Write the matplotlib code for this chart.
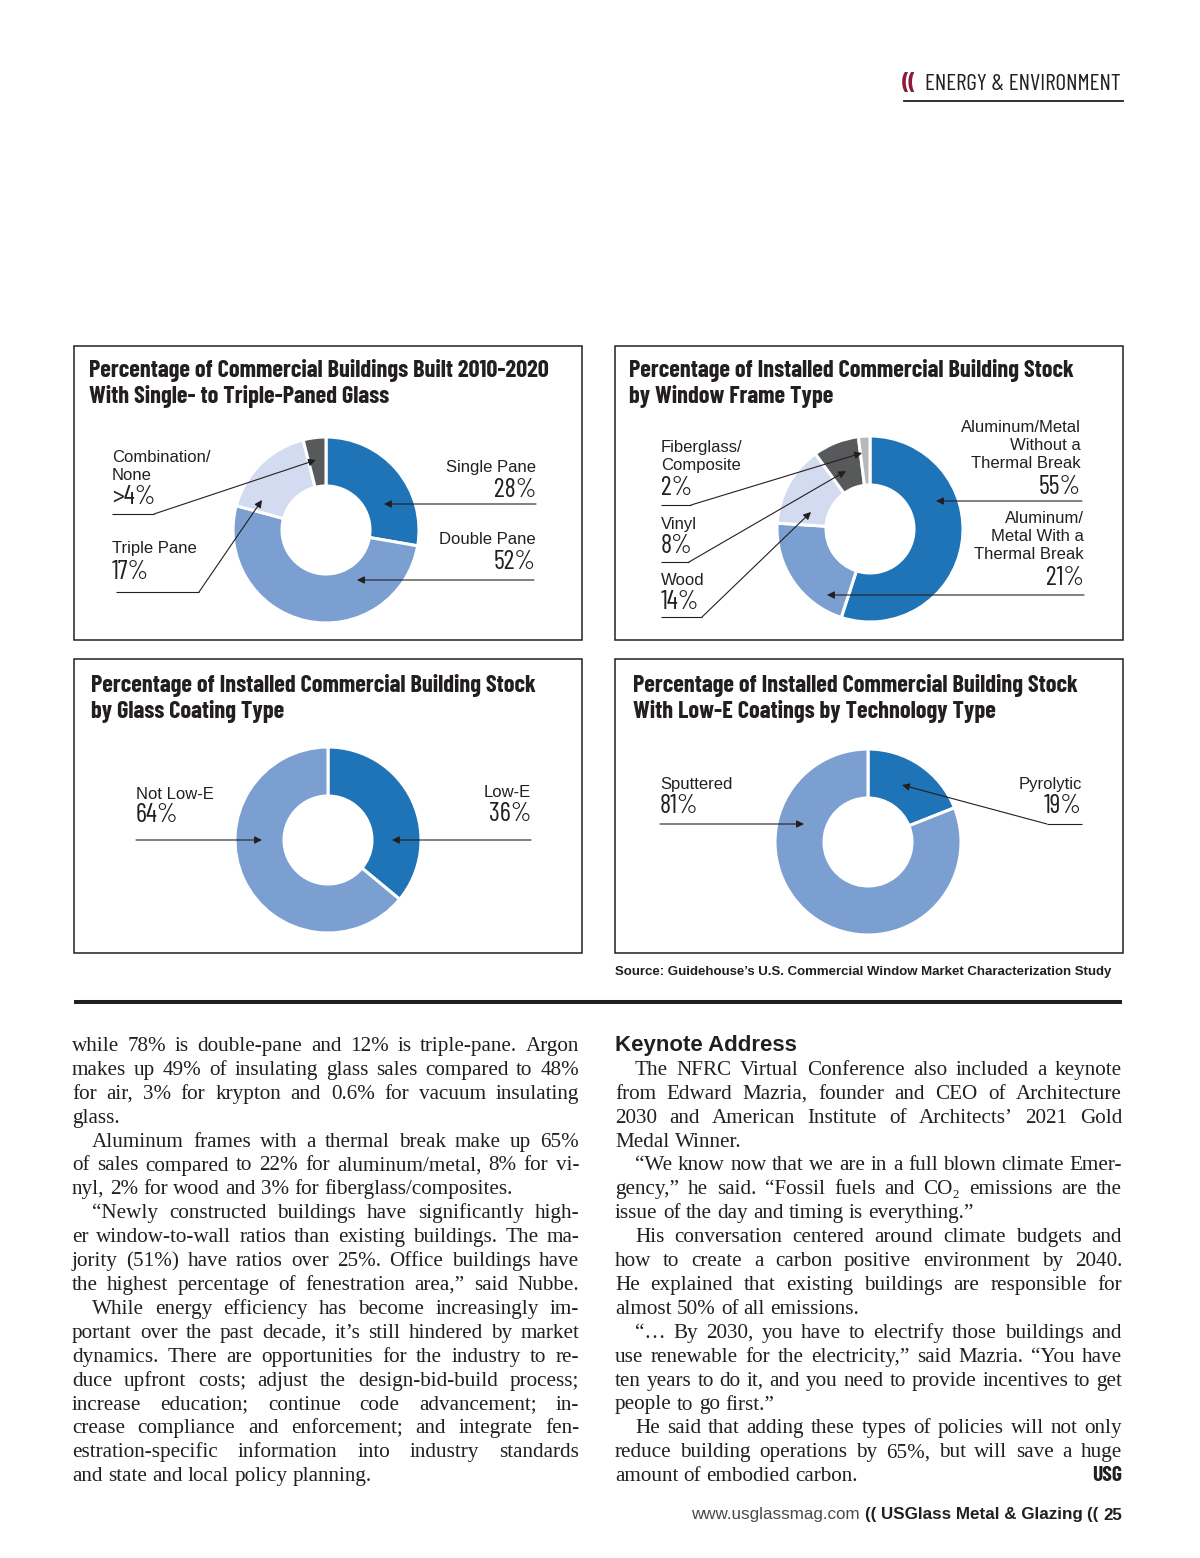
import matplotlib
matplotlib.use('Agg')
import matplotlib.pyplot as plt
from matplotlib.patches import Rectangle

W, H = 1200, 1558

# ---- chart data ----
pane_names = ['Single Pane', 'Double Pane', 'Triple Pane', 'Combination/\nNone']
pane_share = [28, 52, 17, 4]
pane_pct = ['28%', '52%', '17%', '>4%']

frame_names = ['Aluminum/Metal\nWithout a\nThermal Break', 'Aluminum/\nMetal With a\nThermal Break',
               'Wood', 'Vinyl', 'Fiberglass/\nComposite']
frame_share = [55, 21, 14, 8, 2]
frame_pct = ['55%', '21%', '14%', '8%', '2%']

coat_names = ['Low-E', 'Not Low-E']
coat_share = [36, 64]
coat_pct = ['36%', '64%']

tech_names = ['Pyrolytic', 'Sputtered']
tech_share = [19, 81]
tech_pct = ['19%', '81%']

# colours
INK = '#231f20'
DARK = '#1f73b7'
MID = '#7b9fd1'
LIGHT = '#d3dbf0'
GRAY = '#58595b'
LGRAY = '#b7b8ba'
RED = '#8e1b3c'

NARROW = ['Barlow Condensed', 'Archivo Narrow', 'DejaVu Sans']
SANS = ['Liberation Sans', 'DejaVu Sans']
SERIF = ['Liberation Serif', 'DejaVu Serif']

fig = plt.figure(figsize=(W / 100, H / 100), dpi=100)
ax = fig.add_axes([0, 0, 1, 1])
ax.set_xlim(0, W)
ax.set_ylim(0, H)
ax.axis('off')
renderer = fig.canvas.get_renderer()


def Y(y):
    # page pixels from the top -> data units from the bottom
    return H - y


def text_width(s, **kw):
    t = ax.text(0, 0, s, **kw)
    w = t.get_window_extent(renderer).width
    t.remove()
    return w


def fit_size(s, target, **kw):
    return 20 * target / text_width(s, fontsize=20, **kw)


# ---- header ----
hsize = fit_size('ENERGY & ENVIRONMENT', 197, family=NARROW)
ax.text(902, Y(84), '((', family=NARROW, fontweight='bold', fontsize=hsize, color=RED, va='center')
ax.text(925, Y(84), 'ENERGY & ENVIRONMENT', family=NARROW, fontsize=hsize, color=INK, va='center')
ax.plot([904, 1123], [Y(101), Y(101)], color=INK, lw=1.3)

# ---- charts ----
charts = [
    dict(box=(74, 346, 582, 640), tx=89, ty=370,
         title=['Percentage of Commercial Buildings Built 2010-2020', 'With Single- to Triple-Paned Glass'],
         center=(326, 530), share=pane_share, names=pane_names, pct=pane_pct,
         colors=[DARK, MID, LIGHT, GRAY],
         labels=[(536, 'right', 467, 490, [(536, 504), (384, 504)]),
                 (536, 'right', 539, 562, [(534, 580), (357, 580)]),
                 (112, 'left', 548, 572, [(116, 592), (199, 592), (262, 500)]),
                 (112, 'left', 457, 497, [(112, 514), (154, 514), (316, 460)])]),
    dict(box=(615, 346, 1123, 640), tx=629, ty=370,
         title=['Percentage of Installed Commercial Building Stock', 'by Window Frame Type'],
         center=(870, 529), share=frame_share, names=frame_names, pct=frame_pct,
         colors=[DARK, MID, LIGHT, GRAY, LGRAY],
         labels=[(1081, 'right', 427, 487, [(1082, 501), (936, 501)]),
                 (1084, 'right', 518, 578, [(1084, 595), (827, 595)]),
                 (661, 'left', 580, 602, [(661, 617), (702, 617), (811, 512)]),
                 (661, 'left', 524, 546, [(661, 562), (689, 562), (846, 471)]),
                 (661, 'left', 447, 488, [(661, 505), (691, 505), (862, 453)])]),
    dict(box=(74, 659, 582, 953), tx=91, ty=685,
         title=['Percentage of Installed Commercial Building Stock', 'by Glass Coating Type'],
         center=(328, 840), share=coat_share, names=coat_names, pct=coat_pct,
         colors=[DARK, MID],
         labels=[(531, 'right', 792, 814, [(531, 840), (392, 840)]),
                 (136, 'left', 794, 815, [(136, 840), (262, 840)])]),
    dict(box=(615, 659, 1123, 953), tx=633, ty=685,
         title=['Percentage of Installed Commercial Building Stock', 'With Low-E Coatings by Technology Type'],
         center=(868, 842), share=tech_share, names=tech_names, pct=tech_pct,
         colors=[DARK, MID],
         labels=[(1082, 'right', 784, 806, [(1082, 824), (1047, 824), (902, 785)]),
                 (660, 'left', 784, 806, [(660, 824), (804, 824)])]),
]

tsize = fit_size('Percentage of Installed Commercial Building Stock', 446, family=NARROW, fontweight='bold')
R_OUT, R_IN = 93, 44

for c in charts:
    x0, y0, x1, y1 = c['box']
    ax.add_patch(Rectangle((x0, Y(y1)), x1 - x0, y1 - y0, fill=False, ec=INK, lw=1.1))
    for i, line in enumerate(c['title']):
        ax.text(c['tx'], Y(c['ty'] + 26 * i), line, family=NARROW, fontweight='bold',
                fontsize=tsize, color=INK, va='center', ha='left')
    cx, cy = c['center']
    ax.pie(c['share'], colors=c['colors'], startangle=90, counterclock=False,
           radius=R_OUT, center=(cx, Y(cy)), frame=True,
           wedgeprops=dict(width=R_OUT - R_IN, edgecolor='white', linewidth=2.2))
    for name, pct, (lx, ha, ly, py, lead) in zip(c['names'], c['pct'], c['labels']):
        for j, part in enumerate(name.split('\n')):
            ax.text(lx, Y(ly + 18 * j), part, family=SANS, fontsize=12, color=INK, ha=ha, va='center')
        ax.text(lx, Y(py), pct, family=NARROW, fontsize=19, color=INK, ha=ha, va='center')
        xs = [p[0] for p in lead[:-1]]
        ys = [Y(p[1]) for p in lead[:-1]]
        ax.plot(xs, ys, color=INK, lw=0.8, solid_capstyle='butt')
        ax.annotate('', xy=(lead[-1][0], Y(lead[-1][1])), xytext=(lead[-2][0], Y(lead[-2][1])),
                    arrowprops=dict(arrowstyle='-|>', color=INK, lw=0.8, mutation_scale=11,
                                    shrinkA=0, shrinkB=0))

# pie() moves the limits, put the page back
ax.set_xlim(0, W)
ax.set_ylim(0, H)
ax.set_aspect('auto')

# source + rule
src = "Source: Guidehouse\u2019s U.S. Commercial Window Market Characterization Study"
ssize = fit_size(src, 496, family=SANS, fontweight='bold')
ax.text(615, Y(972), src, family=SANS, fontweight='bold', fontsize=ssize, color=INK, va='center')
ax.plot([74, 1122], [Y(1002), Y(1002)], color=INK, lw=2.9, solid_capstyle='butt')

# ---- body text ----
col1 = [
    ["while 78% is double-pane and 12% is triple-pane. Argon",
     "makes up 49% of insulating glass sales compared to 48%",
     "for air, 3% for krypton and 0.6% for vacuum insulating",
     "glass."],
    ["Aluminum frames with a thermal break make up 65%",
     "of sales compared to 22% for aluminum/metal, 8% for vi-",
     "nyl, 2% for wood and 3% for fiberglass/composites."],
    ["\u201cNewly constructed buildings have significantly high-",
     "er window-to-wall ratios than existing buildings. The ma-",
     "jority (51%) have ratios over 25%. Office buildings have",
     "the highest percentage of fenestration area,\u201d said Nubbe."],
    ["While energy efficiency has become increasingly im-",
     "portant over the past decade, it\u2019s still hindered by market",
     "dynamics. There are opportunities for the industry to re-",
     "duce upfront costs; adjust the design-bid-build process;",
     "increase education; continue code advancement; in-",
     "crease compliance and enforcement; and integrate fen-",
     "estration-specific information into industry standards",
     "and state and local policy planning."],
]
col2 = [
    ["The NFRC Virtual Conference also included a keynote",
     "from Edward Mazria, founder and CEO of Architecture",
     "2030 and American Institute of Architects\u2019 2021 Gold",
     "Medal Winner."],
    ["\u201cWe know now that we are in a full blown climate Emer-",
     "gency,\u201d he said. \u201cFossil fuels and CO\u2082 emissions are the",
     "issue of the day and timing is everything.\u201d"],
    ["His conversation centered around climate budgets and",
     "how to create a carbon positive environment by 2040.",
     "He explained that existing buildings are responsible for",
     "almost 50% of all emissions."],
    ["\u201c\u2026 By 2030, you have to electrify those buildings and",
     "use renewable for the electricity,\u201d said Mazria. \u201cYou have",
     "ten years to do it, and you need to provide incentives to get",
     "people to go first.\u201d"],
    ["He said that adding these types of policies will not only",
     "reduce building operations by 65%, but will save a huge",
     "amount of embodied carbon."],
]


# largest body size where every line still fits the column
def widest(paras, size):
    best = 0
    for para in paras:
        for li, line in enumerate(para):
            indent = 20 if li == 0 else 0
            best = max(best, text_width(line, family=SERIF, fontsize=size) + indent)
    return best


bsize = 12
while bsize < 18 and max(widest(col1, bsize + 0.25), widest(col2, bsize + 0.25)) < 507:
    bsize += 0.25
BODY = dict(family=SERIF, fontsize=bsize, color=INK)
space_w = text_width('n n', **BODY) - 2 * text_width('n', **BODY)
LEAD = 23.9


def set_column(paras, x0, x1, base0, first_indent):
    k = 0
    for pi, para in enumerate(paras):
        for li, line in enumerate(para):
            words = line.split(' ')
            indent = 20 if (li == 0 and (pi > 0 or first_indent)) else 0
            ws = [text_width(w, **BODY) for w in words]
            avail = x1 - x0 - indent
            natural = sum(ws) + space_w * (len(words) - 1)
            last = li == len(para) - 1
            if len(words) > 1 and (not last or natural > 0.93 * avail):
                gap = (avail - sum(ws)) / (len(words) - 1)
            else:
                gap = space_w
            x = x0 + indent
            for w, wd in zip(words, ws):
                ax.text(x, Y(base0 + LEAD * k), w, va='baseline', ha='left', **BODY)
                x += wd + gap
            k += 1


set_column(col1, 72, 579, 1051, False)
ax.text(615, Y(1051), 'Keynote Address', family=SANS, fontweight='bold', fontsize=16, color=INK, va='baseline')
set_column(col2, 615, 1122, 1051 + LEAD, True)
ax.text(1122, Y(1051 + LEAD * 18), 'USG', family=NARROW, fontweight='bold', fontsize=15.5, color=INK,
        ha='right', va='baseline')

# ---- footer ----
parts = [('www.usglassmag.com ', 'normal', '#4a4a4a'), ('(( ', 'bold', INK),
         ('USGlass Metal & Glazing ', 'bold', INK), ('(( ', 'bold', INK), ('25', 'bold', INK)]
w10 = sum(text_width(p, family=SANS, fontweight=wt, fontsize=10) for p, wt, _ in parts)
fsize = 10 * (1122 - 693) / w10
widths = [text_width(p, family=SANS, fontweight=wt, fontsize=fsize) for p, wt, _ in parts]
x = 1122 - sum(widths)
for (p, wt, col), wd in zip(parts, widths):
    ax.text(x, Y(1515), p, family=SANS, fontweight=wt, fontsize=fsize, color=col, va='center')
    x += wd

fig.savefig('out.png', dpi=100, facecolor='white')
